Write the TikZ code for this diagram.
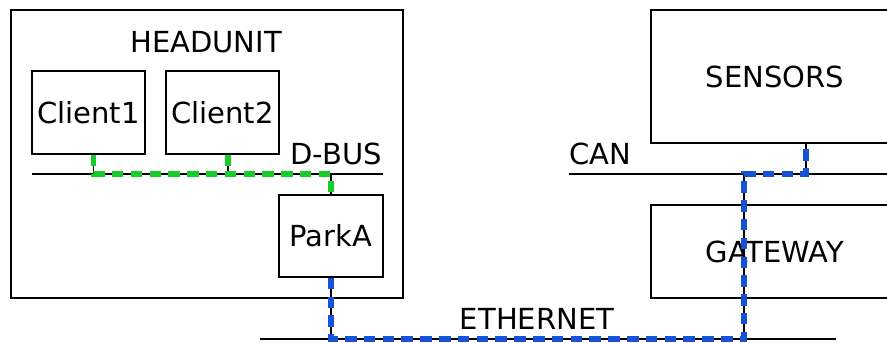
\documentclass[tikz,border=0pt]{standalone}
\usepackage{fontspec}
\setmainfont{DejaVu Sans}
\definecolor{dbusgreen}{RGB}{22,206,42}
\definecolor{ethblue}{RGB}{22,82,214}
\tikzset{
  unit/.style={draw, line width=1.6pt, inner sep=0pt, font=\fontsize{29}{34}\selectfont},
  buslabel/.style={inner sep=0pt, font=\fontsize{29}{34}\selectfont},
  bus/.style={line width=1.6pt},
  wire/.style={draw=black, line width=1.6pt},
  dbusdash/.style={draw=dbusgreen, line width=5.6pt, dash pattern=on 11.5pt off 7.3pt},
  ethdash/.style={draw=ethblue, line width=5.6pt, dash pattern=on 11.5pt off 7.3pt}
}
\begin{document}
\begin{tikzpicture}[x=1pt, y=-1pt]
  \useasboundingbox (0,0) rectangle (887,343);
  % Headunit with its clients
  \node[unit, minimum width=392pt, minimum height=288pt] (headunit) at (207,154) {};
  \node[buslabel, anchor=base] (headunitlabel) at (206,52) {HEADUNIT};
  \node[unit, minimum width=113pt, minimum height=83pt] (client1) at (88.5,112.5) {Client1};
  \node[unit, minimum width=113pt, minimum height=83pt] (client2) at (222.5,112.5) {Client2};
  \node[unit, minimum width=104pt, minimum height=82pt] (parka) at (331,236) {ParkA};
  % Sensors and gateway (cut at the right edge)
  \node[unit, minimum width=248pt, minimum height=133pt] (sensors) at (775,76.5) {SENSORS};
  \node[unit, minimum width=248pt, minimum height=93pt] (gateway) at (775,251.5) {GATEWAY};
  % Buses
  \coordinate (dbusw) at (32,174);
  \coordinate (dbuse) at (383,174);
  \coordinate (canw) at (569,174);
  \coordinate (cane) at (890,174);
  \coordinate (ethw) at (260,339);
  \coordinate (ethe) at (836,339);
  \draw[bus] (dbusw) -- (dbuse);
  \draw[bus] (canw) -- (cane);
  \draw[bus] (ethw) -- (ethe);
  \node[buslabel, anchor=base east] (dbuslabel) at (382,164) {D-BUS};
  \node[buslabel, anchor=base west] (canlabel) at (569,164) {CAN};
  \node[buslabel, anchor=base] (ethlabel) at (537,329) {ETHERNET};
  % D-BUS route: black wire, green dashes on top
  \coordinate (tap1) at (93.5,174);
  \coordinate (tap2) at (228,174);
  \foreach \look in {wire,dbusdash}{
    \draw[\look] ([xshift=5pt]client1.south) -- (tap1) -| (parka.north);
    \draw[\look] ([xshift=5.5pt]client2.south) -- (tap2);
  }
  % Ethernet / CAN route: black wire, blue dashes on top
  \coordinate (ethtap) at (744,339);
  \coordinate (cantap) at (744,174);
  \foreach \look in {wire,ethdash}
    \draw[\look] (parka.south) |- (ethtap) -- (cantap) -| ([xshift=31pt]sensors.south);
\end{tikzpicture}
\end{document}
